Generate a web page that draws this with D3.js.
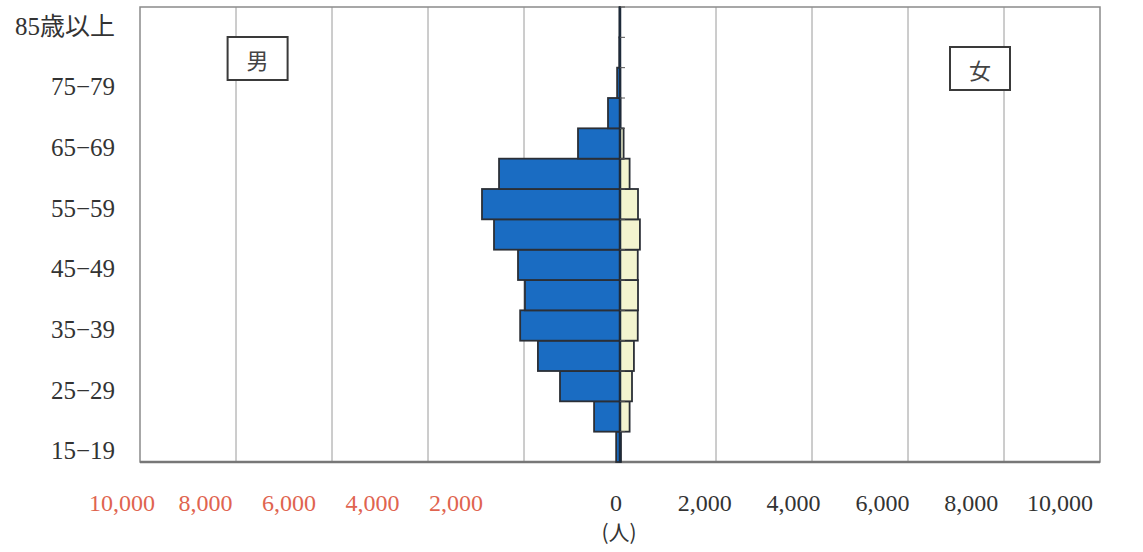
<!DOCTYPE html>
<html>
<head>
<meta charset="utf-8">
<script src="https://cdn.jsdelivr.net/npm/d3@7"></script>
<style>
  body { margin: 0; background: #fff; }
</style>
</head>
<body>
<div id="pyramid"></div>
<script>
// age groups, bottom to top
var ages = ["15-19", "20-24", "25-29", "30-34", "35-39", "40-44", "45-49", "50-54",
            "55-59", "60-64", "65-69", "70-74", "75-79", "80-84", "85歳以上"];
// labels printed on the left
var shownAges = ["15-19", "25-29", "35-39", "45-49", "55-59", "65-69", "75-79", "85歳以上"];
// persons
var male   = [80, 540, 1250, 1710, 2080, 1980, 2125, 2625, 2875, 2520, 875, 250, 60, 15, 10];
var female = [20, 200, 250, 290, 370, 375, 370, 415, 375, 200, 75, 10, 5, 0, 0];
var ticksLeft  = [-10000, -8000, -6000, -4000, -2000];
var ticksRight = [0, 2000, 4000, 6000, 8000, 10000];

// set the dimensions and margins of the graph
var margin = {top: 7, right: 43, bottom: 90, left: 140},
    width = 1143 - margin.left - margin.right,
    height = 552 - margin.top - margin.bottom;

var svg = d3.select("#pyramid")
    .append("svg")
    .attr("width", 1143)
    .attr("height", 552)
    .append("g")
    .attr("transform", "translate(" + margin.left + "," + margin.top + ")");

var x = d3.scaleLinear()
    .domain([-10000, 10000])
    .range([0, width]);

var y = d3.scaleBand()
    .domain(ages)
    .range([height, 0])
    .padding(0);

// tick labels in the print sit a little off the grid
var xl = d3.scaleLinear()
    .domain([-10000, -2000, 0, 10000])
    .range([-18, 316, 476, 920]);

// grid
svg.selectAll("grid")
    .data(d3.range(-8000, 10000, 2000).filter(function(d) { return d != 0; }))
    .enter()
    .append("line")
    .attr("x1", function(d) { return x(d); })
    .attr("x2", function(d) { return x(d); })
    .attr("y1", 0)
    .attr("y2", height)
    .attr("stroke", "#9a9a9a")
    .attr("stroke-width", 1);

// frame
svg.append("rect")
    .attr("x", 0)
    .attr("y", 0)
    .attr("width", width)
    .attr("height", height)
    .attr("fill", "none")
    .attr("stroke", "#8a8a8a")
    .attr("stroke-width", 1.5);
svg.append("line")
    .attr("x1", 0).attr("x2", width)
    .attr("y1", height).attr("y2", height)
    .attr("stroke", "#777")
    .attr("stroke-width", 2.5);

// male bars
svg.selectAll("male")
    .data(ages)
    .enter()
    .append("rect")
    .attr("x", function(d, i) { return x(-male[i]); })
    .attr("y", function(d) { return y(d); })
    .attr("width", function(d, i) { return x(0) - x(-male[i]); })
    .attr("height", y.bandwidth())
    .attr("fill", "#1a6cc2")
    .attr("stroke", "#2b2f36")
    .attr("stroke-width", 1.8);

// female bars
svg.selectAll("female")
    .data(ages)
    .enter()
    .append("rect")
    .attr("x", x(0))
    .attr("y", function(d) { return y(d); })
    .attr("width", function(d, i) { return x(female[i]) - x(0); })
    .attr("height", y.bandwidth())
    .attr("fill", "#f3f4cf")
    .attr("stroke", "#2b2f36")
    .attr("stroke-width", 1.8);

// centre axis with small ticks
svg.append("line")
    .attr("x1", x(0)).attr("x2", x(0))
    .attr("y1", 0).attr("y2", height)
    .attr("stroke", "#1d2a3a")
    .attr("stroke-width", 2.5);
svg.selectAll("ctick")
    .data(ages)
    .enter()
    .append("line")
    .attr("x1", x(0))
    .attr("x2", x(0) + 5)
    .attr("y1", function(d) { return y(d); })
    .attr("y2", function(d) { return y(d); })
    .attr("stroke", "#555")
    .attr("stroke-width", 1);

// age labels
svg.selectAll("agelabel")
    .data(shownAges)
    .enter()
    .append("text")
    .attr("x", -25)
    .attr("y", function(d) { return y(d) + y.bandwidth() / 2 + 4; })
    .attr("text-anchor", "end")
    .attr("dominant-baseline", "central")
    .attr("font-family", "Liberation Serif, 'Noto Sans CJK JP', serif")
    .attr("font-size", 25)
    .attr("fill", "#333")
    .text(function(d) { return d.replace("-", "−"); });

// x labels
svg.selectAll("xleft")
    .data(ticksLeft)
    .enter()
    .append("text")
    .attr("x", function(d) { return xl(d); })
    .attr("y", height + 49)
    .attr("text-anchor", "middle")
    .attr("font-family", "Liberation Serif, serif")
    .attr("font-size", 24)
    .attr("fill", "#e0644f")
    .text(function(d) { return d3.format(",")(-d); });
svg.selectAll("xright")
    .data(ticksRight)
    .enter()
    .append("text")
    .attr("x", function(d) { return xl(d); })
    .attr("y", height + 49)
    .attr("text-anchor", "middle")
    .attr("font-family", "Liberation Serif, serif")
    .attr("font-size", 24)
    .attr("fill", "#333")
    .text(function(d) { return d3.format(",")(d); });

svg.append("text")
    .attr("x", xl(0) + 3)
    .attr("y", height + 78)
    .attr("text-anchor", "middle")
    .attr("font-family", "'Noto Sans CJK JP', sans-serif")
    .attr("font-size", 21)
    .attr("fill", "#333")
    .text("(人)");

// sex boxes
var boxes = [{t: "男", v: -7550, top: 30}, {t: "女", v: 7500, top: 40}];
boxes.forEach(function(b) {
  svg.append("rect")
      .attr("x", x(b.v) - 30)
      .attr("y", b.top)
      .attr("width", 60)
      .attr("height", 43)
      .attr("fill", "#fff")
      .attr("stroke", "#3a3a3a")
      .attr("stroke-width", 2);
  svg.append("text")
      .attr("x", x(b.v))
      .attr("y", b.top + 22)
      .attr("text-anchor", "middle")
      .attr("dominant-baseline", "central")
      .attr("font-family", "'Noto Sans CJK JP', sans-serif")
      .attr("font-size", 22)
      .attr("fill", "#444")
      .text(b.t);
});
</script>
</body>
</html>
